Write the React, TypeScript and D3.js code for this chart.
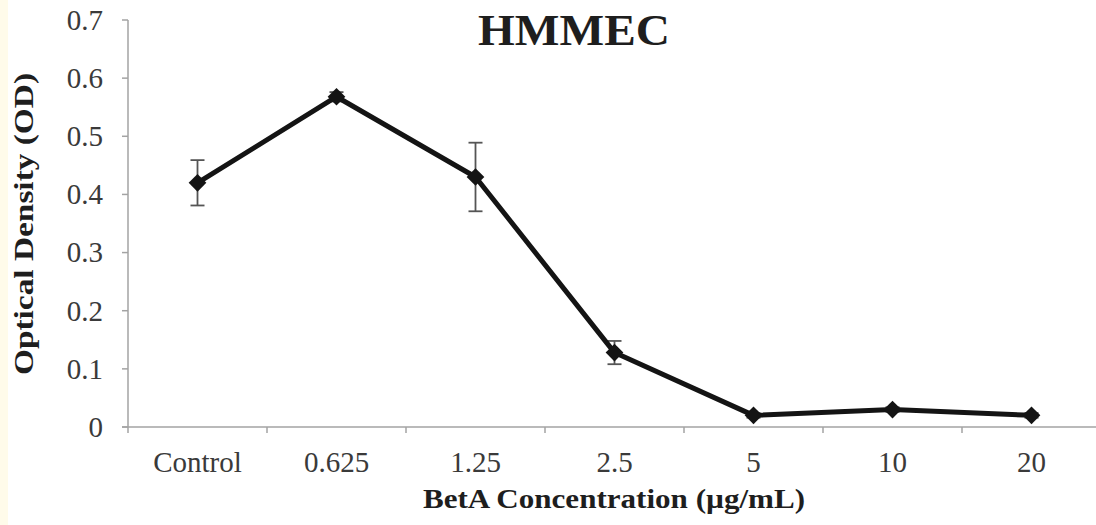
import React from "react";
import * as d3 from "d3";

const categories = ["Control", "0.625", "1.25", "2.5", "5", "10", "20"];
const means = [0.42, 0.568, 0.43, 0.128, 0.02, 0.03, 0.02];
const errors = [0.039, 0.008, 0.059, 0.02, 0.004, 0.004, 0.004];
const yTicks = [0, 0.1, 0.2, 0.3, 0.4, 0.5, 0.6, 0.7];

const W = 1096;
const H = 525;
const margin = { top: 20, right: -5, bottom: 98, left: 128 };
const serif = "'Liberation Serif', 'Times New Roman', serif";

const App = () => {
  const x = d3
    .scaleBand()
    .domain(categories)
    .range([margin.left, W - margin.right])
    .padding(0);
  const y = d3
    .scaleLinear()
    .domain([0, 0.7])
    .range([H - margin.bottom, margin.top]);

  const cx = (i) => x(categories[i]) + x.bandwidth() / 2;
  const line = d3
    .line()
    .x((d, i) => cx(i))
    .y((d) => y(d));

  const diamond = d3.symbol().type(d3.symbolDiamond2).size(200)();
  const axisColor = "#a3a3a3";
  const y0 = y(0);
  // tick marks sit on the borders between categories
  const bounds = categories.map((c) => x(c)).concat([x.range()[1]]);

  return (
    <div style={{ position: "absolute", left: 0, top: 0 }}>
      <svg width={W} height={H} style={{ display: "block", background: "#fff" }}>
        <rect x={0} y={0} width={8} height={H} fill="#fffbea" />

        {/* title */}
        <text
          x={574}
          y={45}
          textAnchor="middle"
          fontFamily={serif}
          fontWeight="bold"
          fontSize={45}
          fill="#1e1e1e"
          textLength={192}
          lengthAdjust="spacingAndGlyphs"
        >
          HMMEC
        </text>

        {/* y axis */}
        <line x1={margin.left} x2={margin.left} y1={y(0.7)} y2={y0} stroke={axisColor} strokeWidth={1.5} />
        {yTicks.map((t) => (
          <g key={t}>
            <line x1={margin.left - 6} x2={margin.left} y1={y(t)} y2={y(t)} stroke={axisColor} strokeWidth={1.5} />
            <text
              x={margin.left - 25}
              y={y(t)}
              dy="0.34em"
              textAnchor="end"
              fontFamily={serif}
              fontSize={29}
              fill="#3a3a3a"
            >
              {t === 0 ? "0" : d3.format(".1f")(t)}
            </text>
          </g>
        ))}

        {/* x axis */}
        <line x1={margin.left - 6} x2={W} y1={y0} y2={y0} stroke={axisColor} strokeWidth={1.5} />
        {bounds.map((b, i) => (
          <line key={i} x1={b} x2={b} y1={y0} y2={y0 + 6} stroke={axisColor} strokeWidth={1.5} />
        ))}
        {categories.map((c, i) => (
          <text
            key={c}
            x={cx(i)}
            y={y0 + 45}
            textAnchor="middle"
            fontFamily={serif}
            fontSize={29}
            fill="#3a3a3a"
          >
            {c}
          </text>
        ))}

        {/* axis titles */}
        <text
          x={614}
          y={508}
          textAnchor="middle"
          fontFamily={serif}
          fontWeight="bold"
          fontSize={28}
          fill="#1e1e1e"
          textLength={382}
          lengthAdjust="spacingAndGlyphs"
        >
          BetA Concentration (µg/mL)
        </text>
        <text
          transform="translate(33,224) rotate(-90)"
          textAnchor="middle"
          fontFamily={serif}
          fontWeight="bold"
          fontSize={28}
          fill="#1e1e1e"
          textLength={302}
          lengthAdjust="spacingAndGlyphs"
        >
          Optical Density (OD)
        </text>

        {/* error bars */}
        {means.map((m, i) => (
          <g key={i} stroke="#555" strokeWidth={1.8}>
            <line x1={cx(i)} x2={cx(i)} y1={y(m + errors[i])} y2={y(m - errors[i])} />
            <line x1={cx(i) - 7} x2={cx(i) + 7} y1={y(m + errors[i])} y2={y(m + errors[i])} />
            <line x1={cx(i) - 7} x2={cx(i) + 7} y1={y(m - errors[i])} y2={y(m - errors[i])} />
          </g>
        ))}

        {/* series */}
        <path d={line(means)} fill="none" stroke="#141414" strokeWidth={5} strokeLinejoin="round" />
        {means.map((m, i) => (
          <path key={i} d={diamond} transform={`translate(${cx(i)},${y(m)})`} fill="#141414" />
        ))}
      </svg>
    </div>
  );
};

export default App;
